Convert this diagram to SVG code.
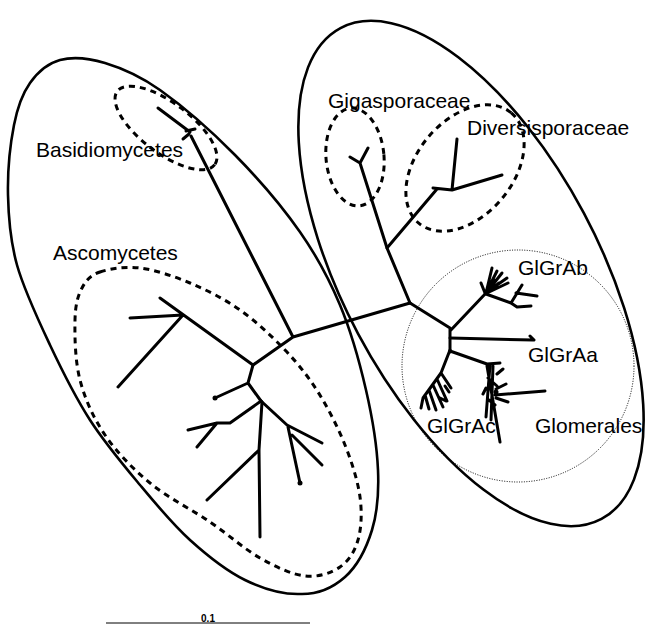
<svg xmlns="http://www.w3.org/2000/svg" width="646" height="625" viewBox="0 0 646 625">
<style>
.outer{fill:none;stroke:#000;stroke-width:2.6}
.dash{fill:none;stroke:#000;stroke-width:3;stroke-dasharray:6 5}
.dot{fill:none;stroke:#000;stroke-width:1;stroke-dasharray:1 1.5}
.br{fill:none;stroke:#000;stroke-width:3;stroke-linecap:round;stroke-linejoin:round}
.lbl{font-family:"Liberation Sans",Arial,sans-serif;font-size:21px;fill:#000}
</style>
<rect width="646" height="625" fill="#fff"/>
<g id="fungi-dikarya">
<path class="outer" d="M60,60 C72.5,56.67 88.33,58 105,63 C121.67,68 138.33,74.67 160,90 C181.67,105.33 211.67,131.33 235,155 C258.33,178.67 282.5,207 300,232 C317.5,257 329,278.67 340,305 C351,331.33 359.67,362.5 366,390 C372.33,417.5 377,446.67 378,470 C379,493.33 377.5,512.17 372,530 C366.5,547.83 357,566.33 345,577 C333,587.67 316.67,594.5 300,594 C283.33,594.5 263.33,589 245,580 C226.67,571 207.5,555.83 190,540 C172.5,524.17 156.67,505 140,485 C123.33,465 105,443.33 90,420 C75,396.67 62.17,370.83 50,345 C37.83,319.17 24,290 17,265 C10,240 8.5,218.33 8,195 C7.5,171.67 10.33,143.67 14,125 C17.67,106.33 22.33,93.83 30,83 C37.67,72.17 47.5,63.33 60,60 Z"/>
</g>
<g id="glomeromycota">
<ellipse class="outer" cx="471" cy="273.5" rx="278" ry="128" transform="rotate(62 471 273.5)"/>
</g>
<g id="basidiomycetes">
<ellipse class="dash" cx="166" cy="128" rx="61" ry="25" transform="rotate(37 166 128)"/>
<text class="lbl" x="36" y="157">Basidiomycetes</text>
</g>
<g id="ascomycetes">
<path class="dash" d="M100,272 C109.67,268.67 125,266.17 140,268 C155,269.83 173.33,276 190,283 C206.67,290 224.17,298.83 240,310 C255.83,321.17 272,336.33 285,350 C298,363.67 308,376.17 318,392 C328,407.83 338,427.5 345,445 C352,462.5 357.83,481.17 360,497 C362.17,512.83 361.33,528.33 358,540 C354.67,551.67 348.83,561 340,567 C331.17,573 318.33,577.5 305,576 C291.67,574.5 275.83,567 260,558 C244.17,549 228.33,534.5 210,522 C191.67,509.5 167.5,497.5 150,483 C132.5,468.5 116.67,452.17 105,435 C93.33,417.83 85,399.17 80,380 C75,360.83 74.67,335.33 75,320 C75.33,304.67 77.83,296 82,288 C86.17,280 90.33,275.33 100,272 Z"/>
<text class="lbl" x="53" y="260">Ascomycetes</text>
</g>
<g id="gigasporaceae">
<ellipse class="dash" cx="355" cy="157" rx="29" ry="49" transform="rotate(-5 355 157)"/>
<text class="lbl" x="328" y="108">Gigasporaceae</text>
</g>
<g id="diversisporaceae">
<ellipse class="dash" cx="465" cy="168" rx="72" ry="48" transform="rotate(-50 465 168)"/>
<text class="lbl" x="467" y="135">Diversisporaceae</text>
</g>
<g id="glomerales">
<circle class="dot" cx="518" cy="366" r="116"/>
<text class="lbl" x="535" y="433">Glomerales</text>
</g>
<g id="glgrab"><text class="lbl" x="518" y="275">GlGrAb</text></g>
<g id="glgraa"><text class="lbl" x="528" y="362">GlGrAa</text></g>
<g id="glgrac"><text class="lbl" x="427" y="433">GlGrAc</text></g>
<g id="tree">
<path class="br" d="M293,337 L410,303 M293,337 L253,365 M293,337 L191,136"/>
<path class="br" d="M158,108 L190,132 M186,131 L195,129 M183,139 L189,134"/>
<path class="br" d="M410,303 L387,248 L360,163 M360,163 L350,157 M360,163 L368,148"/>
<path class="br" d="M387,248 L437,189 M433,188 L452,190 M452,190 L457,139 M452,190 L502,175"/>
<path class="br" d="M410,303 L450,328 M450,328 L450,352 M450,331 L486,293"/>
<path class="br" d="M486,293 L492,268 M486,293 L497,271 M487,292 L502,273 M487,292 L507,278 M487,293 L508,283 M487,293 L499,283 M485,293 L481,283 M490,285 L496,280"/>
<path class="br" d="M486,294 L511,303 M511,303 L522,285 M516,293 L537,296 M511,303 L517,307 L531,306"/>
<path class="br" d="M450,338 L533,340 M530,336 L534,340"/>
<path class="br" d="M450,350 L441,373 L423,398 M441,373 L451,388 M437,379 L447,401 M433,385 L443,407 M429,390 L436,410 M425,395 L429,409 M423,398 L421,408 M445,386 L449,392 M440,398 L446,401"/>
<path class="br" d="M450,351 L487,364 M487,364 L500,363 M487,366 L500,442 M490,365 L486,417 M493,366 L491,420 M488,378 L497,386 M497,374 L503,369 M496,389 L506,384 M495,395 L545,391 M496,398 L508,402 M489,400 L495,405 M486,388 L483,394"/>
<path class="br" d="M253,365 L160,298 M183,315 L130,318 M183,315 L118,387 M253,365 L248,383 M248,383 L215,398 M248,383 L261,401"/>
<path class="br" d="M261,401 L230,423 L217,423 M217,423 L188,430 M217,423 L197,447"/>
<path class="br" d="M262,402 L259,450 L260,537 M259,450 L207,500"/>
<path class="br" d="M261,401 L287,425 M287,425 L322,443 M288,427 L300,483 M292,435 L322,465"/>
<circle cx="215" cy="398" r="2.5"/>
<circle cx="300" cy="483" r="2.5"/>
<circle cx="490" cy="384" r="2.5"/>
<circle cx="496" cy="392" r="2.5"/>
</g>
<g id="scale">
<line x1="106" y1="623" x2="310" y2="623" stroke="#000" stroke-width="1"/>
<text x="208" y="622" text-anchor="middle" font-family="Liberation Sans, Arial, sans-serif" font-size="10" font-weight="bold">0.1</text>
</g>
</svg>
